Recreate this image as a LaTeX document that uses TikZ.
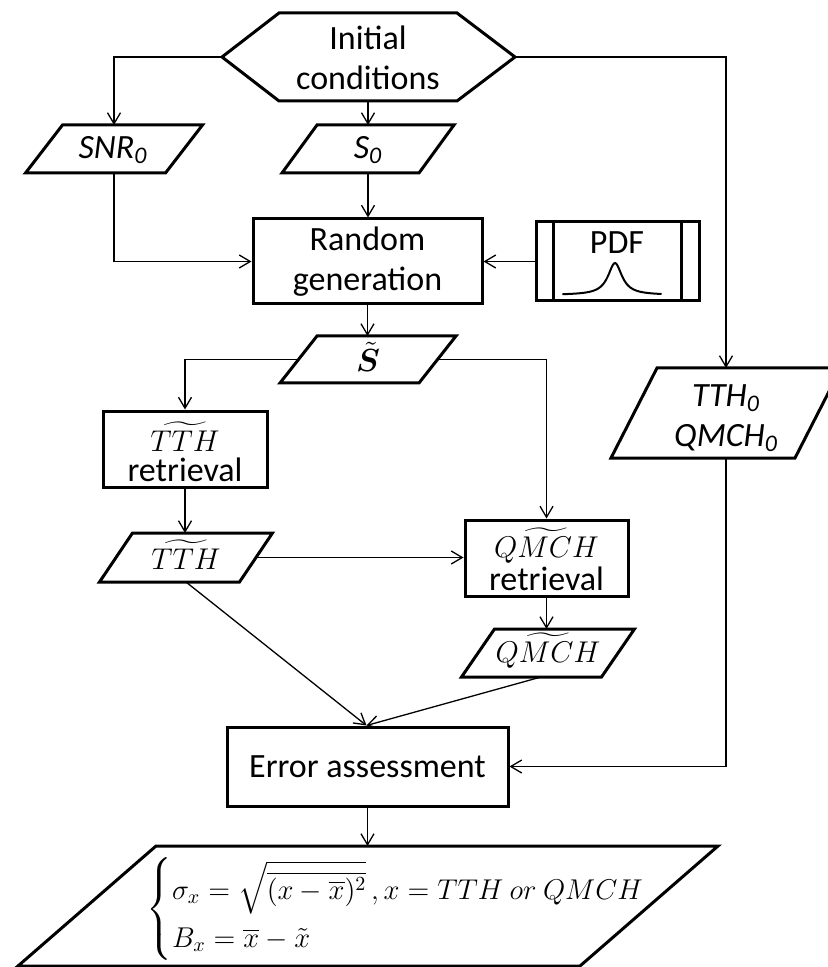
\RequirePackage{fix-cm}
\documentclass[tikz,border=0pt]{standalone}
\usepackage{amsmath,bm}
\usepackage{fontspec}
\setmainfont{Carlito}
\usetikzlibrary{arrows.meta,calc}
\tikzset{
  box/.style={draw,line width=1.5pt,line join=miter,inner sep=0pt,align=center,font=\fontsize{17}{20}\selectfont},
  shapeline/.style={line width=1.5pt,line join=miter},
  conn/.style={line width=0.65pt,-{Straight Barb[length=5.5pt,width=6.5pt,line width=0.65pt]}},
  lbl/.style={font=\fontsize{17}{20}\selectfont,align=center,inner sep=0pt},
  mlbl/.style={font=\fontsize{15}{18}\selectfont,align=center,inner sep=0pt},
}
\newcommand{\mypgram}[6]{%
  \draw[shapeline] ({#2-#4/2-#6/2},{#3+#5/2}) -- ({#2+#4/2-#6/2},{#3+#5/2}) -- ({#2+#4/2+#6/2},{#3-#5/2}) -- ({#2-#4/2+#6/2},{#3-#5/2}) -- cycle;
  \coordinate (#1-t) at (#2,{#3-#5/2});
  \coordinate (#1-b) at (#2,{#3+#5/2});
  \coordinate (#1-l) at ({#2-#4/2},#3);
  \coordinate (#1-r) at ({#2+#4/2},#3);
}
\begin{document}
\begin{tikzpicture}[x=0.5pt,y=-0.5pt]
\clip (0,0) rectangle (828,967);
\fill[white] (0,0) rectangle (828,967);

% Initial conditions hexagon
\draw[shapeline] (279,13) -- (457,13) -- (515,57) -- (457,101) -- (279,101) -- (222,57) -- cycle;
\coordinate (init-l) at (222,57);
\coordinate (init-r) at (515,57);
\coordinate (init-b) at (368,101);
\node[lbl] (init) at (368,58) {Initial\\conditions};

% input parallelograms
\mypgram{snr}{114}{149}{140}{48}{37}
\node[lbl] (snrtxt) at (113,150) {\textit{SNR\textsubscript{0}}};
\mypgram{s0}{368}{149}{137}{48}{35}
\node[lbl] (s0txt) at (368,150) {\textit{S\textsubscript{0}}};

% Random generation and PDF
\node[box,minimum width=114.5pt,minimum height=42.5pt] (rg) at (367.5,261.5) {Random\\generation};
\node[box,minimum width=81.5pt,minimum height=39.5pt] (pdf) at (617.5,261.5) {};
\draw[shapeline] ($(pdf.north west)+(19,0)$) -- ($(pdf.south west)+(19,0)$);
\draw[shapeline] ($(pdf.north east)+(-19,0)$) -- ($(pdf.south east)+(-19,0)$);
\node[lbl] (pdftxt) at (617,243) {PDF};
\draw[line width=1pt,line cap=round] plot[domain=563:661,samples=80,smooth] (\x,{295-32/(1+((\x-615)/8.5)^2)});

% S tilde
\mypgram{st}{368}{359.5}{139}{47}{37}
\node[mlbl] (sttxt) at (368,357) {\fontsize{16}{18}\selectfont$\tilde{\bm{S}}$};

% TTH0 / QMCH0
\mypgram{tth0}{726}{413}{184}{90}{46}
\node[lbl] (tth0txt) at (726,418) {\textit{TTH\textsubscript{0}}\\\textit{QMCH\textsubscript{0}}};

% retrievals
\node[box,minimum width=82pt,minimum height=38pt] (tthr) at (185,449) {};
\node[mlbl] (tthrm) at ($(tthr.center)+(0,-12)$) {$\widetilde{TTH}$};
\node[lbl] (tthrt) at ($(tthr.center)+(0,21)$) {retrieval};
\mypgram{tthp}{186}{557.5}{140}{49}{33}
\node[mlbl] (tthptxt) at (186,555) {$\widetilde{TTH}$};
\node[box,minimum width=81.5pt,minimum height=38pt] (qmchr) at (546.5,558) {};
\node[mlbl] (qmchrm) at ($(qmchr.center)+(0,-12)$) {$\widetilde{QMCH}$};
\node[lbl] (qmchrt) at ($(qmchr.center)+(0,21)$) {retrieval};
\mypgram{qmchp}{548}{653}{140}{48}{33}
\node[mlbl] (qmchptxt) at (548,651) {$\widetilde{QMCH}$};

% Error assessment
\node[box,minimum width=140.5pt,minimum height=39.5pt] (err) at (367.5,766.5) {Error assessment};

% final output
\mypgram{fin}{368}{906}{562}{120}{138}
\node[inner sep=0pt,anchor=west,font=\fontsize{14.3}{17}\selectfont] (form) at (146,909) {$\left\{\begin{array}{@{}l@{}}
  \sigma_x = \sqrt{\overline{(x-\overline{x})^2}}\,, x = TTH\ or\ QMCH\\[7pt]
  B_x = \overline{x} - \tilde{x}
\end{array}\right.$};

% connectors
\draw[conn] (init-l) -| (snr-t);
\draw[conn] (init-b) -- (s0-t);
\draw[conn] (init-r) -| (tth0-t);
\draw[conn] (snr-b) |- (rg.west);
\draw[conn] (s0-b) -- (s0-b |- rg.north);
\draw[conn] (pdf.west) -- (rg.east);
\draw[conn] (rg.south) -- (rg.south |- st-t);
\draw[conn] (st-l) -| (tthr.north);
\draw[conn] (st-r) -| (qmchr.north);
\draw[conn] (tthr.south) -- (tthr.south |- tthp-t);
\draw[conn] (tthp-r) -- (tthp-r -| qmchr.west);
\draw[conn] (qmchr.south) -- (qmchr.south |- qmchp-t);
\coordinate (errin) at ($(err.north)+(-1,0)$);
\draw[conn] (tthp-b) -- (errin);
\coordinate (qmout) at ($(qmchp-b)+(-7,0)$);
\draw[conn] (qmout) -- (errin);
\draw[conn] (tth0-b) |- (err.east);
\draw[conn] (err.south) -- (err.south |- fin-t);
\end{tikzpicture}
\end{document}
